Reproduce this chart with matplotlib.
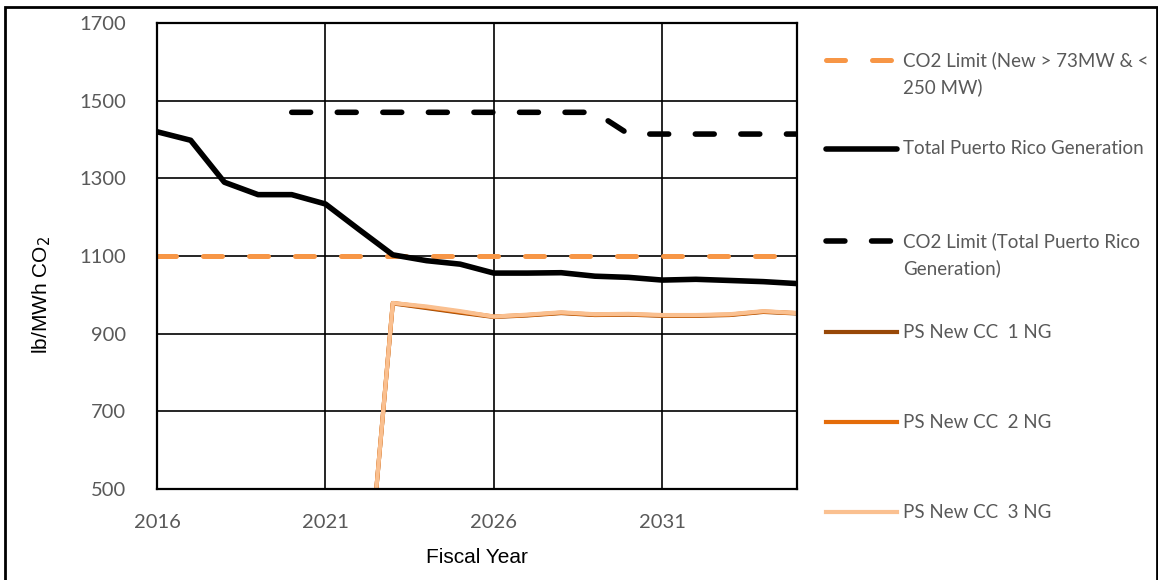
import numpy as np
import matplotlib
matplotlib.use("Agg")
import matplotlib.pyplot as plt
from matplotlib.lines import Line2D
from matplotlib.patches import Rectangle

# data
years = [2016, 2017, 2018, 2019, 2020, 2021, 2022, 2023, 2024, 2025,
         2026, 2027, 2028, 2029, 2030, 2031, 2032, 2033, 2034, 2035]
limit_new = [1100, 1100, 1100, 1100, 1100, 1100, 1100, 1100, 1100, 1100,
             1100, 1100, 1100, 1100, 1100, 1100, 1100, 1100, 1100, 1100]
total_pr = [1420, 1398, 1290, 1258, 1258, 1234, 1168, 1103, 1088, 1079,
            1056, 1056, 1057, 1048, 1045, 1038, 1040, 1037, 1034, 1029]

limit_years = [2020, 2021, 2022, 2023, 2024, 2025, 2026, 2027,
               2028, 2029, 2030, 2031, 2032, 2033, 2034, 2035]
limit_total = [1470, 1470, 1470, 1470, 1470, 1470, 1470, 1470,
               1470, 1470, 1414, 1414, 1414, 1414, 1414, 1414]

cc_years = [2022, 2023, 2024, 2025, 2026, 2027, 2028,
            2029, 2030, 2031, 2032, 2033, 2034, 2035]
cc1 = [0, 978, 966, 954, 943, 947, 953, 948, 949, 946, 946, 948, 956, 952]
cc2 = [0, 979, 968, 956, 944, 948, 954, 949, 950, 947, 947, 949, 957, 953]
cc3 = [0, 979, 970, 958, 944, 949, 955, 950, 951, 948, 948, 950, 958, 953]

labels = ["CO2 Limit (New > 73MW & <\n250 MW)",
          "Total Puerto Rico Generation",
          "CO2 Limit (Total Puerto Rico\nGeneration)",
          "PS New CC  1 NG",
          "PS New CC  2 NG",
          "PS New CC  3 NG"]

ORANGE = "#F79646"
CC_COLORS = ["#984807", "#E46C0A", "#FAC090"]
GREY = "#595959"
W, H = 1158, 580

fig = plt.figure(figsize=(W / 100, H / 100), dpi=100)
ax = fig.add_axes([157 / W, 1 - 489 / H, 640 / W, 466 / H])

styles = [
    dict(color=ORANGE, lw=3.6, dashes=(3.8, 5.4), dash_capstyle="round"),
    dict(color="black", lw=4.0, solid_capstyle="round", solid_joinstyle="round"),
    dict(color="black", lw=4.0, dashes=(3.4, 4.8), dash_capstyle="round"),
    dict(color=CC_COLORS[0], lw=3.0),
    dict(color=CC_COLORS[1], lw=3.0),
    dict(color=CC_COLORS[2], lw=3.0),
]

ax.plot(years, limit_new, **styles[0])
ax.plot(years, total_pr, **styles[1])
ax.plot(limit_years, limit_total, **styles[2])
ax.plot(cc_years, cc1, **styles[3])
ax.plot(cc_years, cc2, **styles[4])
ax.plot(cc_years, cc3, **styles[5])

ax.set_xlim(2016, 2035)
ax.set_ylim(500, 1700)
ax.set_xticks([2016, 2021, 2026, 2031])
ax.set_yticks(np.arange(500, 1701, 200))
ax.grid(True, color="black", lw=1.2)
ax.set_axisbelow(True)
for s in ax.spines.values():
    s.set_linewidth(1.6)
ax.tick_params(length=0, labelsize=14.5, labelcolor=GREY)
for t in ax.get_xticklabels() + ax.get_yticklabels():
    t.set_fontfamily("Lato")
ax.tick_params(axis="x", pad=18)
ax.tick_params(axis="y", pad=22)

ax.set_xlabel("Fiscal Year", fontsize=15, family="Liberation Sans", labelpad=12)
fig.text(42 / W, 1 - 295 / H, "lb/MWh CO$_2$", rotation=90, fontsize=15,
         family="Liberation Sans", ha="center", va="center")

# legend, drawn by hand to match the wide spacing of the original
handle_y = [60, 149, 241, 332, 422, 512]
for i, (lab, st, y) in enumerate(zip(labels, styles, handle_y)):
    fy = 1 - y / H
    fig.add_artist(Line2D([826 / W, 897 / W], [fy, fy], **st))
    for j, line in enumerate(lab.split("\n")):
        fig.text(903 / W, 1 - (y + 27 * j) / H, line, fontsize=13.5,
                 family="Lato", color=GREY, va="center")

fig.add_artist(Rectangle((5 / W, -0.05), 1152 / W, 1.05 - 6.5 / H,
                         fill=False, lw=2, ec="black",
                         transform=fig.transFigure))

fig.savefig("out.png", dpi=100)
